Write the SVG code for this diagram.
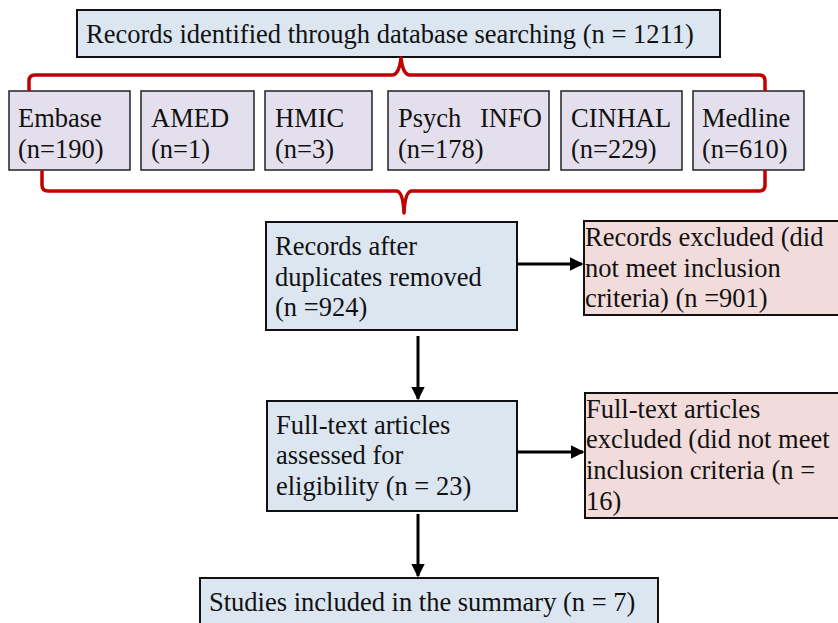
<svg xmlns="http://www.w3.org/2000/svg" width="838" height="623" viewBox="0 0 838 623">
<defs>
<style>
text{font-family:"Liberation Serif","Times New Roman",serif;font-size:26.5px;fill:#111}
.blue{fill:#dce6f1;stroke:#111;stroke-width:2}
.lav{fill:#e4dfec;stroke:#222;stroke-width:1.5}
.pink{fill:#f2dcdb;stroke:#111;stroke-width:2}
.brace{fill:none;stroke:#c00000;stroke-width:3.5;stroke-linejoin:round}
.conn{stroke:#000;stroke-width:3;fill:none}
</style>
<marker id="ah" viewBox="0 0 10 10" refX="9" refY="5" markerWidth="4.5" markerHeight="4.5" orient="auto" markerUnits="strokeWidth">
<path d="M0,0 L10,5 L0,10 z" fill="#000"/>
</marker>
</defs>
<rect width="838" height="623" fill="#fff"/>
<g id="n-top"><rect class="blue" x="77" y="10" width="643" height="47"/><text x="86" y="43">Records identified through database searching (n = 1211)</text></g>
<g id="n-embase"><rect class="lav" x="9" y="91" width="121" height="79"/><text x="18" y="127">Embase</text><text x="18" y="158">(n=190)</text></g>
<g id="n-amed"><rect class="lav" x="141" y="91" width="113" height="79"/><text x="151" y="127">AMED</text><text x="151" y="158">(n=1)</text></g>
<g id="n-hmic"><rect class="lav" x="265" y="91" width="107" height="79"/><text x="275" y="127">HMIC</text><text x="275" y="158">(n=3)</text></g>
<g id="n-psych"><rect class="lav" x="388" y="91" width="161" height="79"/><text x="398" y="127">Psych<tspan x="480">INFO</tspan></text><text x="398" y="158">(n=178)</text></g>
<g id="n-cinhal"><rect class="lav" x="561" y="91" width="121" height="79"/><text x="571" y="127">CINHAL</text><text x="571" y="158">(n=229)</text></g>
<g id="n-medline"><rect class="lav" x="693" y="91" width="111" height="79"/><text x="702" y="127">Medline</text><text x="702" y="158">(n=610)</text></g>
<g id="n-dup"><rect class="blue" x="266" y="222" width="251" height="108"/><text x="275" y="255">Records after</text><text x="275" y="286">duplicates removed</text><text x="275" y="316">(n =924)</text></g>
<g id="n-excl1"><rect class="pink" x="584" y="221" width="260" height="94"/><text x="585" y="246">Records excluded (did</text><text x="585" y="277">not meet inclusion</text><text x="585" y="307">criteria) (n =901)</text></g>
<g id="n-full"><rect class="blue" x="267" y="401" width="250" height="110"/><text x="276" y="434">Full-text articles</text><text x="276" y="464">assessed for</text><text x="276" y="495">eligibility (n = 23)</text></g>
<g id="n-excl2"><rect class="pink" x="585" y="393" width="260" height="125"/><text x="586" y="418">Full-text articles</text><text x="586" y="448">excluded (did not meet</text><text x="586" y="479">inclusion criteria (n =</text><text x="586" y="510">16)</text></g>
<g id="n-final"><rect class="blue" x="200" y="578" width="458" height="60"/><text x="209" y="611">Studies included in the summary (n = 7)</text></g>
<g id="connectors">
<path class="brace" d="M29,91 L29,81 Q29,75 35,75 L392,75 Q399,75 401,58 Q403,75 410,75 L759,75 Q765,75 765,81 L765,91"/>
<path class="brace" d="M42,170 L42,185 Q42,191 48,191 L396,191 Q403,191 404,213 Q405,191 412,191 L759,191 Q765,191 765,185 L765,170"/>
<line class="conn" x1="517" y1="264" x2="582" y2="264" marker-end="url(#ah)"/>
<line class="conn" x1="418" y1="336" x2="418" y2="399" stroke-width="2.5" marker-end="url(#ah)"/>
<line class="conn" x1="517" y1="452" x2="583" y2="452" marker-end="url(#ah)"/>
<line class="conn" x1="418" y1="514" x2="418" y2="576" stroke-width="2.5" marker-end="url(#ah)"/>
</g>
</svg>
